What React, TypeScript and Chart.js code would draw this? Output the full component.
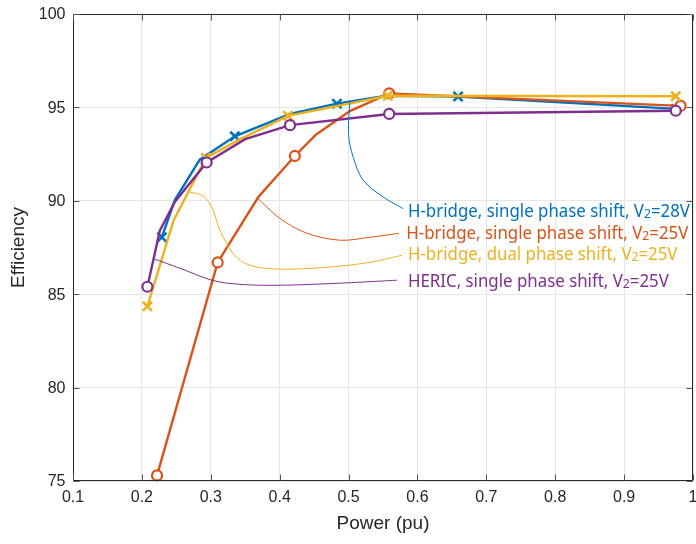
import React, { useEffect, useRef } from "react";
import { Chart, registerables } from "chart.js";

Chart.register(...registerables);

// ---------- data ----------
const seriesNames = [
  "H-bridge, single phase shift, V|2|=28V",
  "H-bridge, single phase shift, V|2|=25V",
  "H-bridge, dual phase shift, V|2|=25V",
  "HERIC, single phase shift, V|2|=25V",
];
const seriesColors = ["#0072BD", "#D95319", "#EDB120", "#7E2F8E"];

const blueX = [0.229, 0.248, 0.284, 0.335, 0.415, 0.483, 0.555, 0.659, 0.975];
const blueY = [88.05, 90.05, 92.2, 93.45, 94.65, 95.2, 95.62, 95.58, 94.92];
const blueMarks = [1, 0, 0, 1, 0, 1, 0, 1, 1];

const orangeX = [0.222, 0.31, 0.369, 0.422, 0.453, 0.502, 0.559, 0.982];
const orangeY = [75.3, 86.7, 90.2, 92.4, 93.55, 94.8, 95.75, 95.08];
const orangeMarks = [1, 1, 0, 1, 0, 0, 1, 1];

const yellowX = [0.208, 0.246, 0.293, 0.34, 0.412, 0.557, 0.975];
const yellowY = [84.35, 88.95, 92.3, 93.25, 94.55, 95.62, 95.6];
const yellowMarks = [1, 0, 1, 0, 1, 1, 1];

const purpleX = [0.208, 0.226, 0.248, 0.294, 0.35, 0.415, 0.559, 0.975];
const purpleY = [85.4, 88.4, 89.95, 92.05, 93.3, 94.05, 94.65, 94.82];
const purpleMarks = [1, 0, 0, 1, 0, 1, 1, 1];

const xTickValues = [0.1, 0.2, 0.3, 0.4, 0.5, 0.6, 0.7, 0.8, 0.9, 1];
const xTickLabels = ["0.1", "0.2", "0.3", "0.4", "0.5", "0.6", "0.7", "0.8", "0.9", "1"];
const yTickValues = [75, 80, 85, 90, 95, 100];
const yTickLabels = ["75", "80", "85", "90", "95", "100"];

const xTitle = "Power (pu)";
const yTitle = "Efficiency";

// annotation leader curves (data coordinates) and label anchors
const leaderBlueX = [0.502, 0.4999, 0.5068, 0.5213, 0.5504, 0.5794];
const leaderBlueY = [95.27, 93.61, 92.33, 91.1, 90.2, 89.58];
const leaderOrangeX = [0.3685, 0.4004, 0.4396, 0.4875, 0.5311, 0.5731];
const leaderOrangeY = [90.13, 89.06, 88.26, 87.89, 88.05, 88.26];
const leaderYellowX = [0.2698, 0.2872, 0.3017, 0.3134, 0.3322, 0.3569, 0.4004, 0.4686, 0.5311, 0.5775];
const leaderYellowY = [90.45, 90.29, 89.65, 88.42, 87.19, 86.55, 86.34, 86.44, 86.71, 87.09];
const leaderPurpleX = [0.219, 0.2553, 0.3017, 0.3424, 0.4004, 0.4875, 0.5702];
const leaderPurpleY = [86.87, 86.39, 85.75, 85.53, 85.48, 85.59, 85.75];
const labelX = [0.5862, 0.5838, 0.5862, 0.5862];
const labelY = [89.13, 87.98, 86.82, 85.37];

// ---------- helpers ----------
const pts = (xs: number[], ys: number[]) => xs.map((x, i) => ({ x, y: ys[i] }));

const FONT = "'Liberation Sans', Arial, Helvetica, sans-serif";
const LABEL_FONT = "'Noto Sans', 'Open Sans', sans-serif";

function smoothPath(ctx: CanvasRenderingContext2D, p: { x: number; y: number }[]) {
  ctx.beginPath();
  ctx.moveTo(p[0].x, p[0].y);
  for (let i = 0; i < p.length - 1; i++) {
    const p0 = p[Math.max(0, i - 1)];
    const p1 = p[i];
    const p2 = p[i + 1];
    const p3 = p[Math.min(p.length - 1, i + 2)];
    const c1x = p1.x + (p2.x - p0.x) / 6;
    const c1y = p1.y + (p2.y - p0.y) / 6;
    const c2x = p2.x - (p3.x - p1.x) / 6;
    const c2y = p2.y - (p3.y - p1.y) / 6;
    ctx.bezierCurveTo(c1x, c1y, c2x, c2y, p2.x, p2.y);
  }
  ctx.stroke();
}

const annotationPlugin = {
  id: "annotations",
  afterDatasetsDraw(chart: any) {
    const { ctx, scales } = chart;
    const sx = scales.x;
    const sy = scales.y;
    const leaders = [
      [leaderBlueX, leaderBlueY],
      [leaderOrangeX, leaderOrangeY],
      [leaderYellowX, leaderYellowY],
      [leaderPurpleX, leaderPurpleY],
    ];
    ctx.save();
    ctx.lineWidth = 1;
    leaders.forEach(([xs, ys], k) => {
      ctx.strokeStyle = seriesColors[k];
      smoothPath(
        ctx,
        xs.map((x: number, i: number) => ({ x: sx.getPixelForValue(x), y: sy.getPixelForValue(ys[i]) }))
      );
    });

    const mainSize = 18;
    const subSize = 13;
    const measure = (txt: string) => {
      let w = 0;
      txt.split("|").forEach((s, i) => {
        ctx.font = `${i === 1 ? subSize : mainSize}px ${LABEL_FONT}`;
        w += ctx.measureText(s).width;
      });
      return w;
    };
    const targetW = 282;
    const scaleX = targetW / measure(seriesNames[0]);
    seriesNames.forEach((txt, k) => {
      const x0 = sx.getPixelForValue(labelX[k]);
      const y0 = sy.getPixelForValue(labelY[k]);
      ctx.save();
      ctx.translate(x0, y0);
      ctx.scale(scaleX, 1);
      ctx.fillStyle = seriesColors[k];
      ctx.textBaseline = "alphabetic";
      ctx.textAlign = "left";
      let cx = 0;
      txt.split("|").forEach((s, i) => {
        ctx.font = `${i === 1 ? subSize : mainSize}px ${LABEL_FONT}`;
        ctx.fillText(s, cx, i === 1 ? 1 : 0);
        cx += ctx.measureText(s).width;
      });
      ctx.restore();
    });
    ctx.restore();
  },
};

const boxPlugin = {
  id: "box",
  afterDraw(chart: any) {
    const { ctx, chartArea, scales } = chart;
    const l = Math.round(chartArea.left) + 0.5;
    const r = Math.round(chartArea.right) - 0.5;
    const t = Math.round(chartArea.top) + 0.5;
    const b = Math.round(chartArea.bottom) - 0.5;
    ctx.save();
    ctx.strokeStyle = "#262626";
    ctx.lineWidth = 1;
    ctx.beginPath();
    ctx.rect(l, t, r - l, b - t);
    ctx.stroke();
    ctx.strokeStyle = "#555555";
    const tl = 6;
    ctx.beginPath();
    xTickValues.forEach((v) => {
      const px = Math.round(scales.x.getPixelForValue(v)) + 0.5;
      ctx.moveTo(px, b);
      ctx.lineTo(px, b - tl);
      ctx.moveTo(px, t);
      ctx.lineTo(px, t + tl);
    });
    yTickValues.forEach((v) => {
      const py = Math.round(scales.y.getPixelForValue(v)) + 0.5;
      ctx.moveTo(l, py);
      ctx.lineTo(l + tl, py);
      ctx.moveTo(r, py);
      ctx.lineTo(r - tl, py);
    });
    ctx.stroke();

    // tick labels
    ctx.fillStyle = "#262626";
    ctx.font = `16px ${FONT}`;
    ctx.textAlign = "center";
    ctx.textBaseline = "middle";
    xTickValues.forEach((v, i) => {
      ctx.fillText(xTickLabels[i], scales.x.getPixelForValue(v), b + 17);
    });
    ctx.textAlign = "right";
    yTickValues.forEach((v, i) => {
      ctx.fillText(yTickLabels[i], l - 8, scales.y.getPixelForValue(v) + 1);
    });
    ctx.restore();
  },
};

function makeDataset(
  xs: number[],
  ys: number[],
  marks: number[],
  color: string,
  style: string,
  order: number
) {
  const isCircle = style === "circle";
  return {
    data: pts(xs, ys),
    showLine: true,
    borderColor: color,
    borderWidth: 2.4,
    tension: 0,
    pointStyle: style,
    pointRadius: marks.map((m) => (m ? (isCircle ? 5 : 6.5) : 0)),
    pointBorderColor: color,
    pointBackgroundColor: isCircle ? "#ffffff" : color,
    pointBorderWidth: isCircle ? 2.2 : 2.6,
    order,
    clip: false,
  };
}

export default function App() {
  const ref = useRef<HTMLCanvasElement>(null);

  useEffect(() => {
    document.body.style.margin = "0";
    const canvas = ref.current!;
    const chart = new Chart(canvas, {
      type: "scatter",
      data: {
        datasets: [
          makeDataset(blueX, blueY, blueMarks, seriesColors[0], "crossRot", 4),
          makeDataset(orangeX, orangeY, orangeMarks, seriesColors[1], "circle", 3),
          makeDataset(yellowX, yellowY, yellowMarks, seriesColors[2], "crossRot", 2),
          makeDataset(purpleX, purpleY, purpleMarks, seriesColors[3], "circle", 1),
        ] as any,
      },
      options: {
        animation: false,
        responsive: false,
        devicePixelRatio: 1,
        layout: { autoPadding: false, padding: { top: 14, right: 3, left: 0, bottom: 0 } },
        plugins: {
          legend: { display: false },
          tooltip: { enabled: false },
        },
        scales: {
          x: {
            type: "linear",
            min: 0.1,
            max: 1,
            afterFit: (s: any) => {
              s.height = 63;
              s.paddingLeft = 0;
              s.paddingRight = 0;
            },
            afterBuildTicks: (s: any) => {
              s.ticks = xTickValues.map((v) => ({ value: v }));
            },
            ticks: { display: false },
            grid: { color: "#e6e6e6", lineWidth: 1, drawTicks: false },
            border: { display: false },
            title: {
              display: true,
              text: xTitle,
              color: "#262626",
              font: { family: FONT, size: 19 },
              padding: { top: 0, bottom: 9 },
            },
          },
          y: {
            type: "linear",
            min: 75,
            max: 100,
            afterFit: (s: any) => {
              s.width = 73;
              s.paddingTop = 0;
              s.paddingBottom = 0;
            },
            afterBuildTicks: (s: any) => {
              s.ticks = yTickValues.map((v) => ({ value: v }));
            },
            ticks: { display: false },
            grid: { color: "#e6e6e6", lineWidth: 1, drawTicks: false },
            border: { display: false },
            title: {
              display: true,
              text: yTitle,
              color: "#262626",
              font: { family: FONT, size: 19 },
              padding: { top: 7, bottom: 0 },
            },
          },
        },
      },
      plugins: [annotationPlugin, boxPlugin],
    } as any);
    return () => chart.destroy();
  }, []);

  return (
    <div style={{ width: 696, height: 544 }}>
      <canvas ref={ref} width={696} height={544} style={{ display: "block" }} />
    </div>
  );
}
